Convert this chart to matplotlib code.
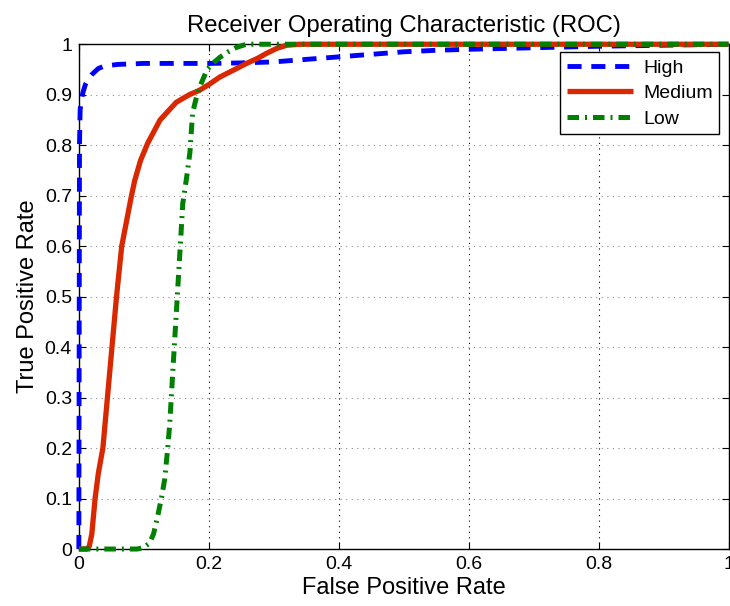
import numpy as np
import matplotlib
matplotlib.use("Agg")
import matplotlib.pyplot as plt

plt.rc('font', family=['Liberation Sans', 'DejaVu Sans'])

# ROC curves
fpr_high = [0, 0.001, 0.002, 0.004, 0.006, 0.01, 0.015, 0.02, 0.03, 0.04, 0.06, 0.1,
            0.15, 0.2, 0.25, 0.3, 0.35, 0.4, 0.45, 0.5, 0.55, 0.6, 0.7, 0.8, 0.9, 1.0]
tpr_high = [0, 0.80, 0.87, 0.89, 0.903, 0.92, 0.932, 0.94, 0.952, 0.957, 0.96, 0.962,
            0.962, 0.962, 0.963, 0.965, 0.97, 0.975, 0.98, 0.985, 0.988, 0.99, 0.993, 0.996, 0.998, 1.0]

fpr_med = [0, 0.012, 0.016, 0.02, 0.025, 0.03, 0.037, 0.044, 0.051, 0.058, 0.066, 0.081,
           0.086, 0.095, 0.106, 0.125, 0.15, 0.17, 0.186, 0.2, 0.217, 0.24, 0.258, 0.275,
           0.289, 0.305, 0.32, 0.34, 0.4, 0.6, 0.8, 1.0]
tpr_med = [0, 0, 0.005, 0.03, 0.1, 0.15, 0.2, 0.3, 0.4, 0.5, 0.6, 0.7,
           0.73, 0.77, 0.804, 0.85, 0.885, 0.9, 0.909, 0.92, 0.935, 0.95, 0.962, 0.972,
           0.982, 0.992, 0.998, 1.0, 1.0, 1.0, 1.0, 1.0]

fpr_low = [0, 0.09, 0.1, 0.109, 0.115, 0.121, 0.127, 0.132, 0.137, 0.14, 0.145, 0.15,
           0.155, 0.16, 0.166, 0.171, 0.175, 0.18, 0.186, 0.197, 0.207, 0.217, 0.23,
           0.243, 0.258, 0.3, 0.6, 1.0]
tpr_low = [0, 0, 0.003, 0.012, 0.03, 0.063, 0.1, 0.137, 0.202, 0.25, 0.36, 0.467,
           0.576, 0.685, 0.737, 0.786, 0.863, 0.89, 0.915, 0.949, 0.963, 0.974, 0.985,
           0.994, 1.0, 1.0, 1.0, 1.0]

labels = ["High", "Medium", "Low"]
xticks = [0, 0.2, 0.4, 0.6, 0.8, 1]
yticks = [0, 0.1, 0.2, 0.3, 0.4, 0.5, 0.6, 0.7, 0.8, 0.9, 1]

fig = plt.figure(figsize=(7.3, 6.06), dpi=100)
ax = fig.add_axes([0.108, 0.094, 0.890, 0.833])

ax.plot(fpr_high, tpr_high, color='#0000ff', lw=3.5, dashes=(2.9, 2.0),
        dash_capstyle='butt', label=labels[0], clip_on=False, zorder=3)
ax.plot(fpr_med, tpr_med, color='#d92800', lw=3.8, solid_capstyle='butt',
        label=labels[1], clip_on=False, zorder=3)
ax.plot(fpr_low, tpr_low, color='#008000', lw=3.6, dashes=(2.3, 1.2, 0.4, 1.2),
        dash_capstyle='butt', label=labels[2], clip_on=False, zorder=3)

ax.set_xlim(0, 1)
ax.set_ylim(0, 1)
ax.set_xticks(xticks)
ax.set_xticklabels(["0", "0.2", "0.4", "0.6", "0.8", "1"])
ax.set_yticks(yticks)
ax.set_yticklabels(["0", "0.1", "0.2", "0.3", "0.4", "0.5", "0.6", "0.7", "0.8", "0.9", "1"])
ax.tick_params(direction='in', top=True, right=True, length=5, width=0.8,
               labelsize=14, pad=5)

ax.xaxis.grid(True, linestyle=(0, (1, 4)), color='k', lw=0.8)
ax.yaxis.grid(True, linestyle=(0, (1, 4)), color='0.55', lw=0.8)
ax.set_axisbelow(True)
for s in ax.spines.values():
    s.set_linewidth(1.0)

ax.set_title("Receiver Operating Characteristic (ROC)", fontsize=17.2, pad=9)
ax.set_xlabel("False Positive Rate", fontsize=17, labelpad=3)
ax.set_ylabel("True Positive Rate", fontsize=17, labelpad=4)

leg = ax.legend(loc='upper right', bbox_to_anchor=(0.986, 0.984), borderaxespad=0,
                fontsize=14, handlelength=3.4, fancybox=False, framealpha=1,
                edgecolor='k', borderpad=0.35, labelspacing=0.4, handletextpad=0.5)
leg.get_frame().set_linewidth(1.0)

plt.savefig('out.png', dpi=100)
